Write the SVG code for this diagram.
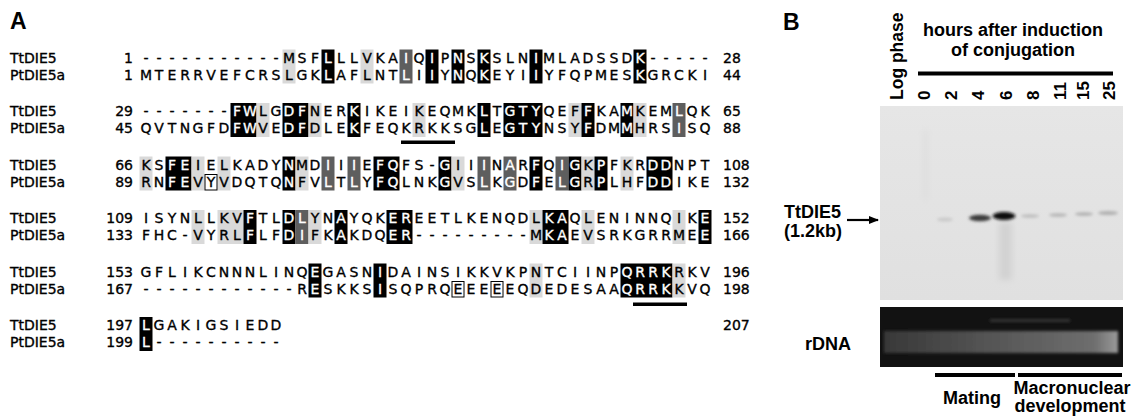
<svg xmlns="http://www.w3.org/2000/svg" width="1132" height="418" viewBox="0 0 1132 418">
<style>
.sq{font-family:"DejaVu Sans",sans-serif;font-size:14px;fill:#000;stroke:#000;stroke-width:0.35;text-anchor:middle}
.lb{font-family:"DejaVu Sans",sans-serif;font-size:14px;fill:#000;stroke:#000;stroke-width:0.35}
.ne{font-family:"DejaVu Sans",sans-serif;font-size:14px;fill:#000;stroke:#000;stroke-width:0.35;text-anchor:end}
.w{fill:#fff;stroke:#fff}
.B{fill:#000}
.L{fill:#d9d9d9}
.D{fill:#5e5e5e}
.O{fill:none;stroke:#000;stroke-width:1}
.ul{fill:#000}
.hb{font-family:"Liberation Sans",Arial,sans-serif;font-weight:bold;font-size:18px;fill:#000}
.pl{font-family:"Liberation Sans",Arial,sans-serif;font-weight:bold;font-size:23px;fill:#000}
.bar{fill:#000}
</style>
<defs>
<filter id="bl" x="-50%" y="-50%" width="200%" height="200%"><feGaussianBlur stdDeviation="1.6"/></filter>
<filter id="bl2" x="-50%" y="-50%" width="200%" height="200%"><feGaussianBlur stdDeviation="3"/></filter>
<linearGradient id="rg" x1="0" y1="0" x2="1" y2="0">
<stop offset="0" stop-color="#383838"/><stop offset="0.45" stop-color="#555"/><stop offset="0.9" stop-color="#6e6e6e"/><stop offset="1" stop-color="#9a9a9a"/>
</linearGradient>
<linearGradient id="bg" x1="0" y1="0" x2="0" y2="1">
<stop offset="0" stop-color="#e6e6e6"/><stop offset="1" stop-color="#e0e0e0"/>
</linearGradient>
<marker id="ah" markerWidth="10" markerHeight="8" refX="9" refY="4" orient="auto" markerUnits="userSpaceOnUse">
<path d="M0,0 L10,4 L0,8 Z" fill="#000"/>
</marker>
</defs>
<rect width="1132" height="418" fill="#fff"/>

<g id="panelA">
<text class="pl" x="10" y="29">A</text>

<g id="block1">
<rect class="L" x="282.5" y="49.5" width="13" height="34"/>
<rect class="L" x="360.5" y="49.5" width="13" height="34"/>
<rect class="B" x="321.5" y="49.5" width="13" height="34"/>
<rect class="D" x="399.5" y="49.5" width="13" height="34"/>
<rect class="B" x="425.5" y="49.5" width="13" height="34"/>
<rect class="B" x="451.5" y="49.5" width="13" height="34"/>
<rect class="B" x="477.5" y="49.5" width="13" height="34"/>
<rect class="B" x="529.5" y="49.5" width="13" height="34"/>
<rect class="B" x="633.5" y="49.5" width="13" height="34"/>
<text class="lb" x="10" y="62.5">TtDIE5</text>
<text class="lb" x="10" y="79.5">PtDIE5a</text>
<text class="ne" x="133" y="62.5">1</text>
<text class="ne" x="133" y="79.5">1</text>
<text class="sq" y="62.5" x="146 159 172 185 198 211 224 237 250 263 276 289 302 315 328 341 354 367 380 393 406 419 432 445 458 471 484 497 510 523 536 549 562 575 588 601 614 627 640 653 666 679 692 705">-----------MSF<tspan class="w">L</tspan>LLVKA<tspan class="w">I</tspan>Q<tspan class="w">I</tspan>P<tspan class="w">N</tspan>S<tspan class="w">K</tspan>SLN<tspan class="w">I</tspan>MLADSSD<tspan class="w">K</tspan>-----</text>
<text class="sq" y="79.5" x="146 159 172 185 198 211 224 237 250 263 276 289 302 315 328 341 354 367 380 393 406 419 432 445 458 471 484 497 510 523 536 549 562 575 588 601 614 627 640 653 666 679 692 705">MTERRVEFCRSLGK<tspan class="w">L</tspan>AFLNT<tspan class="w">L</tspan>I<tspan class="w">I</tspan>Y<tspan class="w">N</tspan>Q<tspan class="w">K</tspan>EYI<tspan class="w">I</tspan>YFQPMES<tspan class="w">K</tspan>GRCKI</text>
<text class="lb" x="723" y="62.5">28</text>
<text class="lb" x="723" y="79.5">44</text>
</g>

<g id="block2">
<rect class="B" x="230.5" y="103" width="26" height="34"/>
<rect class="L" x="256.5" y="103" width="13" height="34"/>
<rect class="B" x="282.5" y="103" width="26" height="34"/>
<rect class="L" x="308.5" y="103" width="13" height="34"/>
<rect class="B" x="347.5" y="103" width="13" height="34"/>
<rect class="L" x="412.5" y="103" width="13" height="34"/>
<rect class="B" x="477.5" y="103" width="13" height="34"/>
<rect class="B" x="503.5" y="103" width="39" height="34"/>
<rect class="L" x="568.5" y="103" width="13" height="34"/>
<rect class="B" x="581.5" y="103" width="13" height="34"/>
<rect class="B" x="620.5" y="103" width="13" height="34"/>
<rect class="L" x="633.5" y="103" width="13" height="34"/>
<rect class="D" x="672.5" y="103" width="13" height="34"/>
<rect class="ul" x="401" y="140.5" width="54" height="3.5"/>
<text class="lb" x="10" y="116">TtDIE5</text>
<text class="lb" x="10" y="133">PtDIE5a</text>
<text class="ne" x="133" y="116">29</text>
<text class="ne" x="133" y="133">45</text>
<text class="sq" y="116" x="146 159 172 185 198 211 224 237 250 263 276 289 302 315 328 341 354 367 380 393 406 419 432 445 458 471 484 497 510 523 536 549 562 575 588 601 614 627 640 653 666 679 692 705">-------<tspan class="w">FW</tspan>LG<tspan class="w">DF</tspan>NER<tspan class="w">K</tspan>IKEIKEQMK<tspan class="w">L</tspan>T<tspan class="w">GTY</tspan>QEF<tspan class="w">F</tspan>KA<tspan class="w">M</tspan>KEM<tspan class="w">L</tspan>QK</text>
<text class="sq" y="133" x="146 159 172 185 198 211 224 237 250 263 276 289 302 315 328 341 354 367 380 393 406 419 432 445 458 471 484 497 510 523 536 549 562 575 588 601 614 627 640 653 666 679 692 705">QVTNGFD<tspan class="w">FW</tspan>VE<tspan class="w">DF</tspan>DLE<tspan class="w">K</tspan>FEQKRKKSG<tspan class="w">L</tspan>E<tspan class="w">GTY</tspan>NSY<tspan class="w">F</tspan>DM<tspan class="w">M</tspan>HRS<tspan class="w">I</tspan>SQ</text>
<text class="lb" x="723" y="116">65</text>
<text class="lb" x="723" y="133">88</text>
</g>

<g id="block3">
<rect class="L" x="139.5" y="156.5" width="13" height="34"/>
<rect class="B" x="165.5" y="156.5" width="26" height="34"/>
<rect class="L" x="191.5" y="156.5" width="13" height="34"/>
<rect class="L" x="217.5" y="156.5" width="13" height="34"/>
<rect class="B" x="282.5" y="156.5" width="13" height="34"/>
<rect class="L" x="295.5" y="156.5" width="13" height="34"/>
<rect class="D" x="321.5" y="156.5" width="13" height="34"/>
<rect class="D" x="347.5" y="156.5" width="13" height="34"/>
<rect class="B" x="373.5" y="156.5" width="26" height="34"/>
<rect class="B" x="438.5" y="156.5" width="13" height="34"/>
<rect class="L" x="451.5" y="156.5" width="13" height="34"/>
<rect class="D" x="477.5" y="156.5" width="13" height="34"/>
<rect class="D" x="503.5" y="156.5" width="13" height="34"/>
<rect class="B" x="529.5" y="156.5" width="13" height="34"/>
<rect class="D" x="555.5" y="156.5" width="13" height="34"/>
<rect class="B" x="568.5" y="156.5" width="13" height="34"/>
<rect class="L" x="581.5" y="156.5" width="13" height="34"/>
<rect class="B" x="594.5" y="156.5" width="13" height="34"/>
<rect class="L" x="620.5" y="156.5" width="13" height="34"/>
<rect class="B" x="646.5" y="156.5" width="26" height="34"/>
<rect class="O" x="205" y="174.5" width="12" height="15.5"/>
<text class="lb" x="10" y="169.5">TtDIE5</text>
<text class="lb" x="10" y="186.5">PtDIE5a</text>
<text class="ne" x="133" y="169.5">66</text>
<text class="ne" x="133" y="186.5">89</text>
<text class="sq" y="169.5" x="146 159 172 185 198 211 224 237 250 263 276 289 302 315 328 341 354 367 380 393 406 419 432 445 458 471 484 497 510 523 536 549 562 575 588 601 614 627 640 653 666 679 692 705">KS<tspan class="w">FE</tspan>IELKADY<tspan class="w">N</tspan>MD<tspan class="w">I</tspan>I<tspan class="w">I</tspan>E<tspan class="w">FQ</tspan>FS-<tspan class="w">G</tspan>II<tspan class="w">I</tspan>N<tspan class="w">A</tspan>R<tspan class="w">F</tspan>Q<tspan class="w">IG</tspan>K<tspan class="w">P</tspan>FKR<tspan class="w">DD</tspan>NPT</text>
<text class="sq" y="186.5" x="146 159 172 185 198 211 224 237 250 263 276 289 302 315 328 341 354 367 380 393 406 419 432 445 458 471 484 497 510 523 536 549 562 575 588 601 614 627 640 653 666 679 692 705">RN<tspan class="w">FE</tspan>VYVDQTQ<tspan class="w">N</tspan>FV<tspan class="w">L</tspan>T<tspan class="w">L</tspan>Y<tspan class="w">FQ</tspan>LNK<tspan class="w">G</tspan>VS<tspan class="w">L</tspan>K<tspan class="w">G</tspan>D<tspan class="w">F</tspan>E<tspan class="w">LG</tspan>R<tspan class="w">P</tspan>LHF<tspan class="w">DD</tspan>IKE</text>
<text class="lb" x="723" y="169.5">108</text>
<text class="lb" x="723" y="186.5">132</text>
</g>

<g id="block4">
<rect class="L" x="191.5" y="210" width="13" height="34"/>
<rect class="L" x="217.5" y="210" width="26" height="34"/>
<rect class="B" x="243.5" y="210" width="13" height="34"/>
<rect class="B" x="282.5" y="210" width="13" height="34"/>
<rect class="D" x="295.5" y="210" width="13" height="34"/>
<rect class="L" x="308.5" y="210" width="13" height="34"/>
<rect class="B" x="334.5" y="210" width="13" height="34"/>
<rect class="B" x="386.5" y="210" width="26" height="34"/>
<rect class="L" x="529.5" y="210" width="13" height="34"/>
<rect class="B" x="542.5" y="210" width="26" height="34"/>
<rect class="L" x="581.5" y="210" width="13" height="34"/>
<rect class="L" x="672.5" y="210" width="13" height="34"/>
<rect class="B" x="698.5" y="210" width="13" height="34"/>
<text class="lb" x="10" y="223">TtDIE5</text>
<text class="lb" x="10" y="240">PtDIE5a</text>
<text class="ne" x="133" y="223">109</text>
<text class="ne" x="133" y="240">133</text>
<text class="sq" y="223" x="146 159 172 185 198 211 224 237 250 263 276 289 302 315 328 341 354 367 380 393 406 419 432 445 458 471 484 497 510 523 536 549 562 575 588 601 614 627 640 653 666 679 692 705">ISYNLLKV<tspan class="w">F</tspan>TL<tspan class="w">DL</tspan>YN<tspan class="w">A</tspan>YQK<tspan class="w">ER</tspan>EETLKENQDL<tspan class="w">KA</tspan>QLENINNQIK<tspan class="w">E</tspan></text>
<text class="sq" y="240" x="146 159 172 185 198 211 224 237 250 263 276 289 302 315 328 341 354 367 380 393 406 419 432 445 458 471 484 497 510 523 536 549 562 575 588 601 614 627 640 653 666 679 692 705">FHC-VYRL<tspan class="w">F</tspan>LF<tspan class="w">DI</tspan>FK<tspan class="w">A</tspan>KDQ<tspan class="w">ER</tspan>---------M<tspan class="w">KA</tspan>EVSRKGRRME<tspan class="w">E</tspan></text>
<text class="lb" x="723" y="223">152</text>
<text class="lb" x="723" y="240">166</text>
</g>

<g id="block5">
<rect class="B" x="308.5" y="263.5" width="13" height="34"/>
<rect class="B" x="373.5" y="263.5" width="13" height="34"/>
<rect class="L" x="529.5" y="263.5" width="13" height="34"/>
<rect class="B" x="620.5" y="263.5" width="52" height="34"/>
<rect class="L" x="672.5" y="263.5" width="13" height="34"/>
<rect class="O" x="452" y="281.5" width="12" height="15.5"/>
<rect class="O" x="491" y="281.5" width="12" height="15.5"/>
<rect class="ul" x="633" y="302.5" width="54" height="3.5"/>
<text class="lb" x="10" y="276.5">TtDIE5</text>
<text class="lb" x="10" y="293.5">PtDIE5a</text>
<text class="ne" x="133" y="276.5">153</text>
<text class="ne" x="133" y="293.5">167</text>
<text class="sq" y="276.5" x="146 159 172 185 198 211 224 237 250 263 276 289 302 315 328 341 354 367 380 393 406 419 432 445 458 471 484 497 510 523 536 549 562 575 588 601 614 627 640 653 666 679 692 705">GFLIKCNNNLINQ<tspan class="w">E</tspan>GASN<tspan class="w">I</tspan>DAINSIKKVKPNTCIINP<tspan class="w">QRRK</tspan>RKV</text>
<text class="sq" y="293.5" x="146 159 172 185 198 211 224 237 250 263 276 289 302 315 328 341 354 367 380 393 406 419 432 445 458 471 484 497 510 523 536 549 562 575 588 601 614 627 640 653 666 679 692 705">------------R<tspan class="w">E</tspan>SKKS<tspan class="w">I</tspan>SQPRQEEEEEQDEDESAA<tspan class="w">QRRK</tspan>KVQ</text>
<text class="lb" x="723" y="276.5">196</text>
<text class="lb" x="723" y="293.5">198</text>
</g>

<g id="block6">
<rect class="B" x="139.5" y="317" width="13" height="34"/>
<text class="lb" x="10" y="330">TtDIE5</text>
<text class="lb" x="10" y="347">PtDIE5a</text>
<text class="ne" x="133" y="330">197</text>
<text class="ne" x="133" y="347">199</text>
<text class="sq" y="330" x="146 159 172 185 198 211 224 237 250 263 276"><tspan class="w">L</tspan>GAKIGSIEDD</text>
<text class="sq" y="347" x="146 159 172 185 198 211 224 237 250 263 276"><tspan class="w">L</tspan>----------</text>
<text class="lb" x="723" y="330">207</text>
</g>
</g>

<g id="panelB">
<text class="pl" x="783" y="30">B</text>
<g id="header">
<text class="hb" x="1013" y="36" text-anchor="middle">hours after induction</text>
<text class="hb" x="1013" y="56" text-anchor="middle">of conjugation</text>
<rect class="bar" x="918" y="71.5" width="195" height="4"/>
<text class="hb" style="font-size:17.5px" transform="translate(903,100) rotate(-90)">Log phase</text>
<text class="hb" style="font-size:17px" transform="translate(930,100) rotate(-90)">0</text>
<text class="hb" style="font-size:17px" transform="translate(957,100) rotate(-90)">2</text>
<text class="hb" style="font-size:17px" transform="translate(984,100) rotate(-90)">4</text>
<text class="hb" style="font-size:17px" transform="translate(1012,100) rotate(-90)">6</text>
<text class="hb" style="font-size:17px" transform="translate(1039,100) rotate(-90)">8</text>
<text class="hb" style="font-size:17px" transform="translate(1066,100) rotate(-90)">11</text>
<text class="hb" style="font-size:17px" transform="translate(1089,100) rotate(-90)">15</text>
<text class="hb" style="font-size:17px" transform="translate(1115,100) rotate(-90)">25</text>
</g>
<g id="blot">
<rect x="880" y="106" width="243" height="194" fill="url(#bg)"/>
<g filter="url(#bl2)">
<rect x="999" y="222" width="13" height="58" fill="#d2d2d2"/>
<rect x="924" y="130" width="3" height="70" fill="#dadada"/>
</g>
<g filter="url(#bl)">
<ellipse cx="945" cy="219.5" rx="8" ry="2" fill="#cacaca"/>
<ellipse cx="980" cy="218" rx="11" ry="3.2" fill="#3a3a3a"/>
<ellipse cx="1004" cy="216" rx="11.5" ry="4" fill="#111"/>
<ellipse cx="1030" cy="216" rx="9" ry="1.8" fill="#bdbdbd"/>
<ellipse cx="1058" cy="215" rx="9" ry="1.8" fill="#b5b5b5"/>
<ellipse cx="1084" cy="214" rx="9" ry="1.8" fill="#b0b0b0"/>
<ellipse cx="1108" cy="213" rx="10" ry="2" fill="#b0b0b0"/>
</g>
</g>
<g id="rdna">
<rect x="880" y="307" width="243" height="60" fill="#121212"/>
<g filter="url(#bl)">
<rect x="884" y="331" width="234" height="22" fill="url(#rg)"/>
<rect x="990" y="319" width="80" height="3" fill="#333"/>
</g>
</g>
<g id="labels">
<text class="hb" x="784" y="218">TtDIE5</text>
<text class="hb" x="784" y="237">(1.2kb)</text>
<text class="hb" x="805" y="350">rDNA</text>
<rect class="bar" x="935" y="373" width="80" height="4"/>
<rect class="bar" x="1018" y="373" width="104" height="4"/>
<text class="hb" x="972" y="404" text-anchor="middle">Mating</text>
<text class="hb" x="1072" y="394" text-anchor="middle">Macronuclear</text>
<text class="hb" x="1070" y="412" text-anchor="middle">development</text>
</g>
<g id="connectors">
<line x1="847" y1="220" x2="878" y2="220" stroke="#000" stroke-width="2.2" marker-end="url(#ah)"/>
</g>
</g>
</svg>
